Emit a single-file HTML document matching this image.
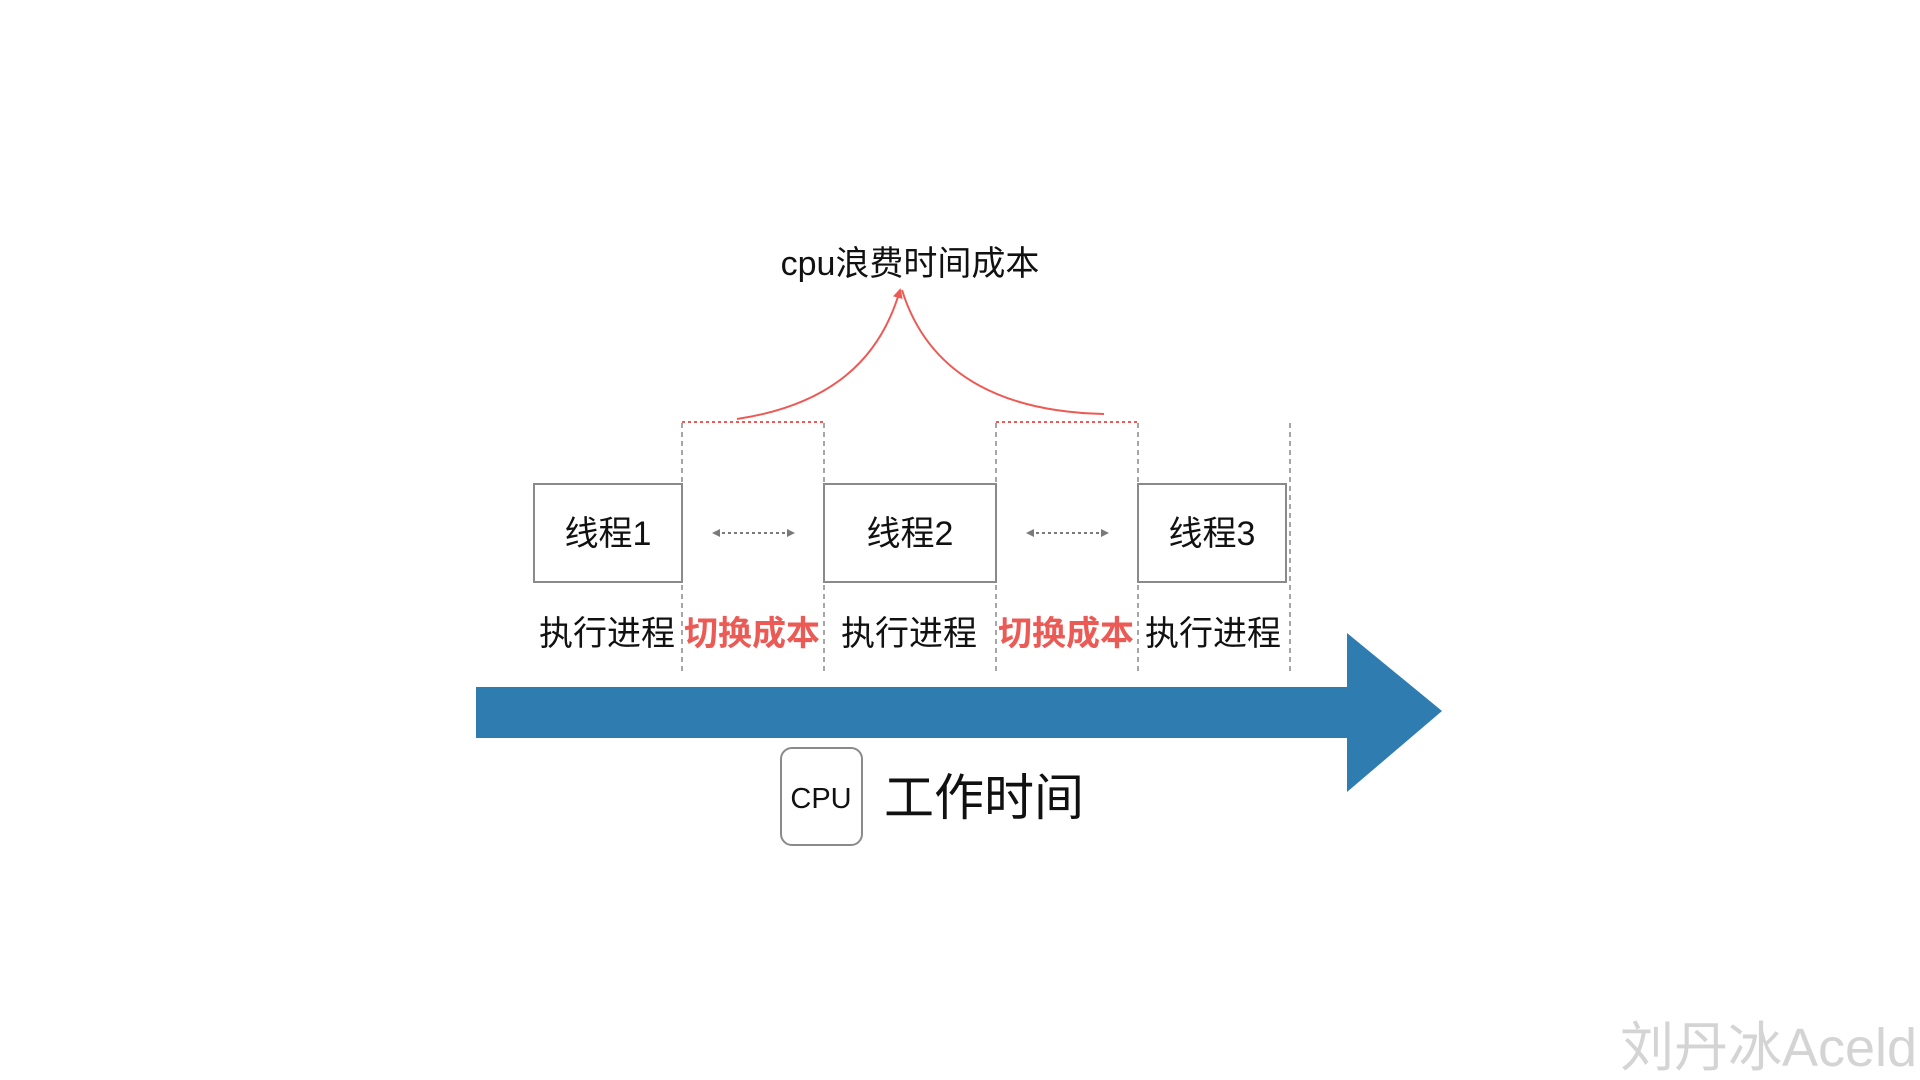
<!DOCTYPE html>
<html><head><meta charset="utf-8"><style>
html,body{margin:0;padding:0;background:#fff;width:1920px;height:1080px;overflow:hidden}
svg{display:block}
text{font-family:"Liberation Sans","Noto Sans CJK SC",sans-serif}
</style></head><body>
<svg width="1920" height="1080" viewBox="0 0 1920 1080" xmlns="http://www.w3.org/2000/svg">
<defs>
<marker id="ga" viewBox="0 0 10 10" refX="5" refY="5" markerWidth="4" markerHeight="4" orient="auto-start-reverse"><path d="M0,0 L10,5 L0,10 z" fill="#7a7a7a"/></marker>
<marker id="ra" viewBox="0 0 10 10" refX="8" refY="5" markerWidth="5" markerHeight="5" orient="auto"><path d="M0,0 L10,5 L0,10 z" fill="#ec5a55"/></marker>
</defs>
<text x="910" y="275" font-size="34" text-anchor="middle" fill="#111">cpu浪费时间成本</text>
<path d="M737,419 C830,405 880,360 900,290" fill="none" stroke="#ec5a55" stroke-width="2" marker-end="url(#ra)"/>
<path d="M1104,414 C1010,412 930,380 902,290" fill="none" stroke="#ec5a55" stroke-width="2"/>
<g stroke="#ec5a55" stroke-width="2" stroke-dasharray="3,3"><line x1="682" y1="422" x2="824" y2="422"/><line x1="996" y1="422" x2="1138" y2="422"/></g>
<g stroke="#888" stroke-width="1.5" stroke-dasharray="5,4"><line x1="682" y1="423" x2="682" y2="673"/><line x1="824" y1="423" x2="824" y2="673"/><line x1="996" y1="423" x2="996" y2="673"/><line x1="1138" y1="423" x2="1138" y2="673"/><line x1="1290" y1="423" x2="1290" y2="673"/></g>
<g fill="#fff" stroke="#8a8a8a" stroke-width="2"><rect x="534" y="484" width="148" height="98"/><rect x="824" y="484" width="172" height="98"/><rect x="1138" y="484" width="148" height="98"/></g>
<g font-size="34" text-anchor="middle" fill="#111"><text x="608" y="545">线程1</text><text x="910" y="545">线程2</text><text x="1212" y="545">线程3</text></g>
<g stroke="#7a7a7a" stroke-width="2" stroke-dasharray="3,3"><line x1="716" y1="533" x2="791" y2="533" marker-start="url(#ga)" marker-end="url(#ga)"/><line x1="1030" y1="533" x2="1105" y2="533" marker-start="url(#ga)" marker-end="url(#ga)"/></g>
<g font-size="34" text-anchor="middle"><text x="607" y="645" fill="#111">执行进程</text><text x="752" y="645" fill="#ec5a55" font-weight="bold">切换成本</text><text x="909" y="645" fill="#111">执行进程</text><text x="1066" y="645" fill="#ec5a55" font-weight="bold">切换成本</text><text x="1213" y="645" fill="#111">执行进程</text></g>
<path d="M476,687 L1347,687 L1347,633 L1442,711 L1347,792 L1347,738 L476,738 z" fill="#2e7cb0"/>
<rect x="781" y="748" width="81" height="97" rx="11" fill="#fff" stroke="#8a8a8a" stroke-width="2"/>
<text x="821" y="808" font-size="29" text-anchor="middle" fill="#111">CPU</text>
<text x="884" y="815" font-size="50" fill="#111">工作时间</text>
<text x="1620" y="1066" font-size="54" fill="#d4d4d4">刘丹冰Aceld</text>
</svg>
</body></html>
